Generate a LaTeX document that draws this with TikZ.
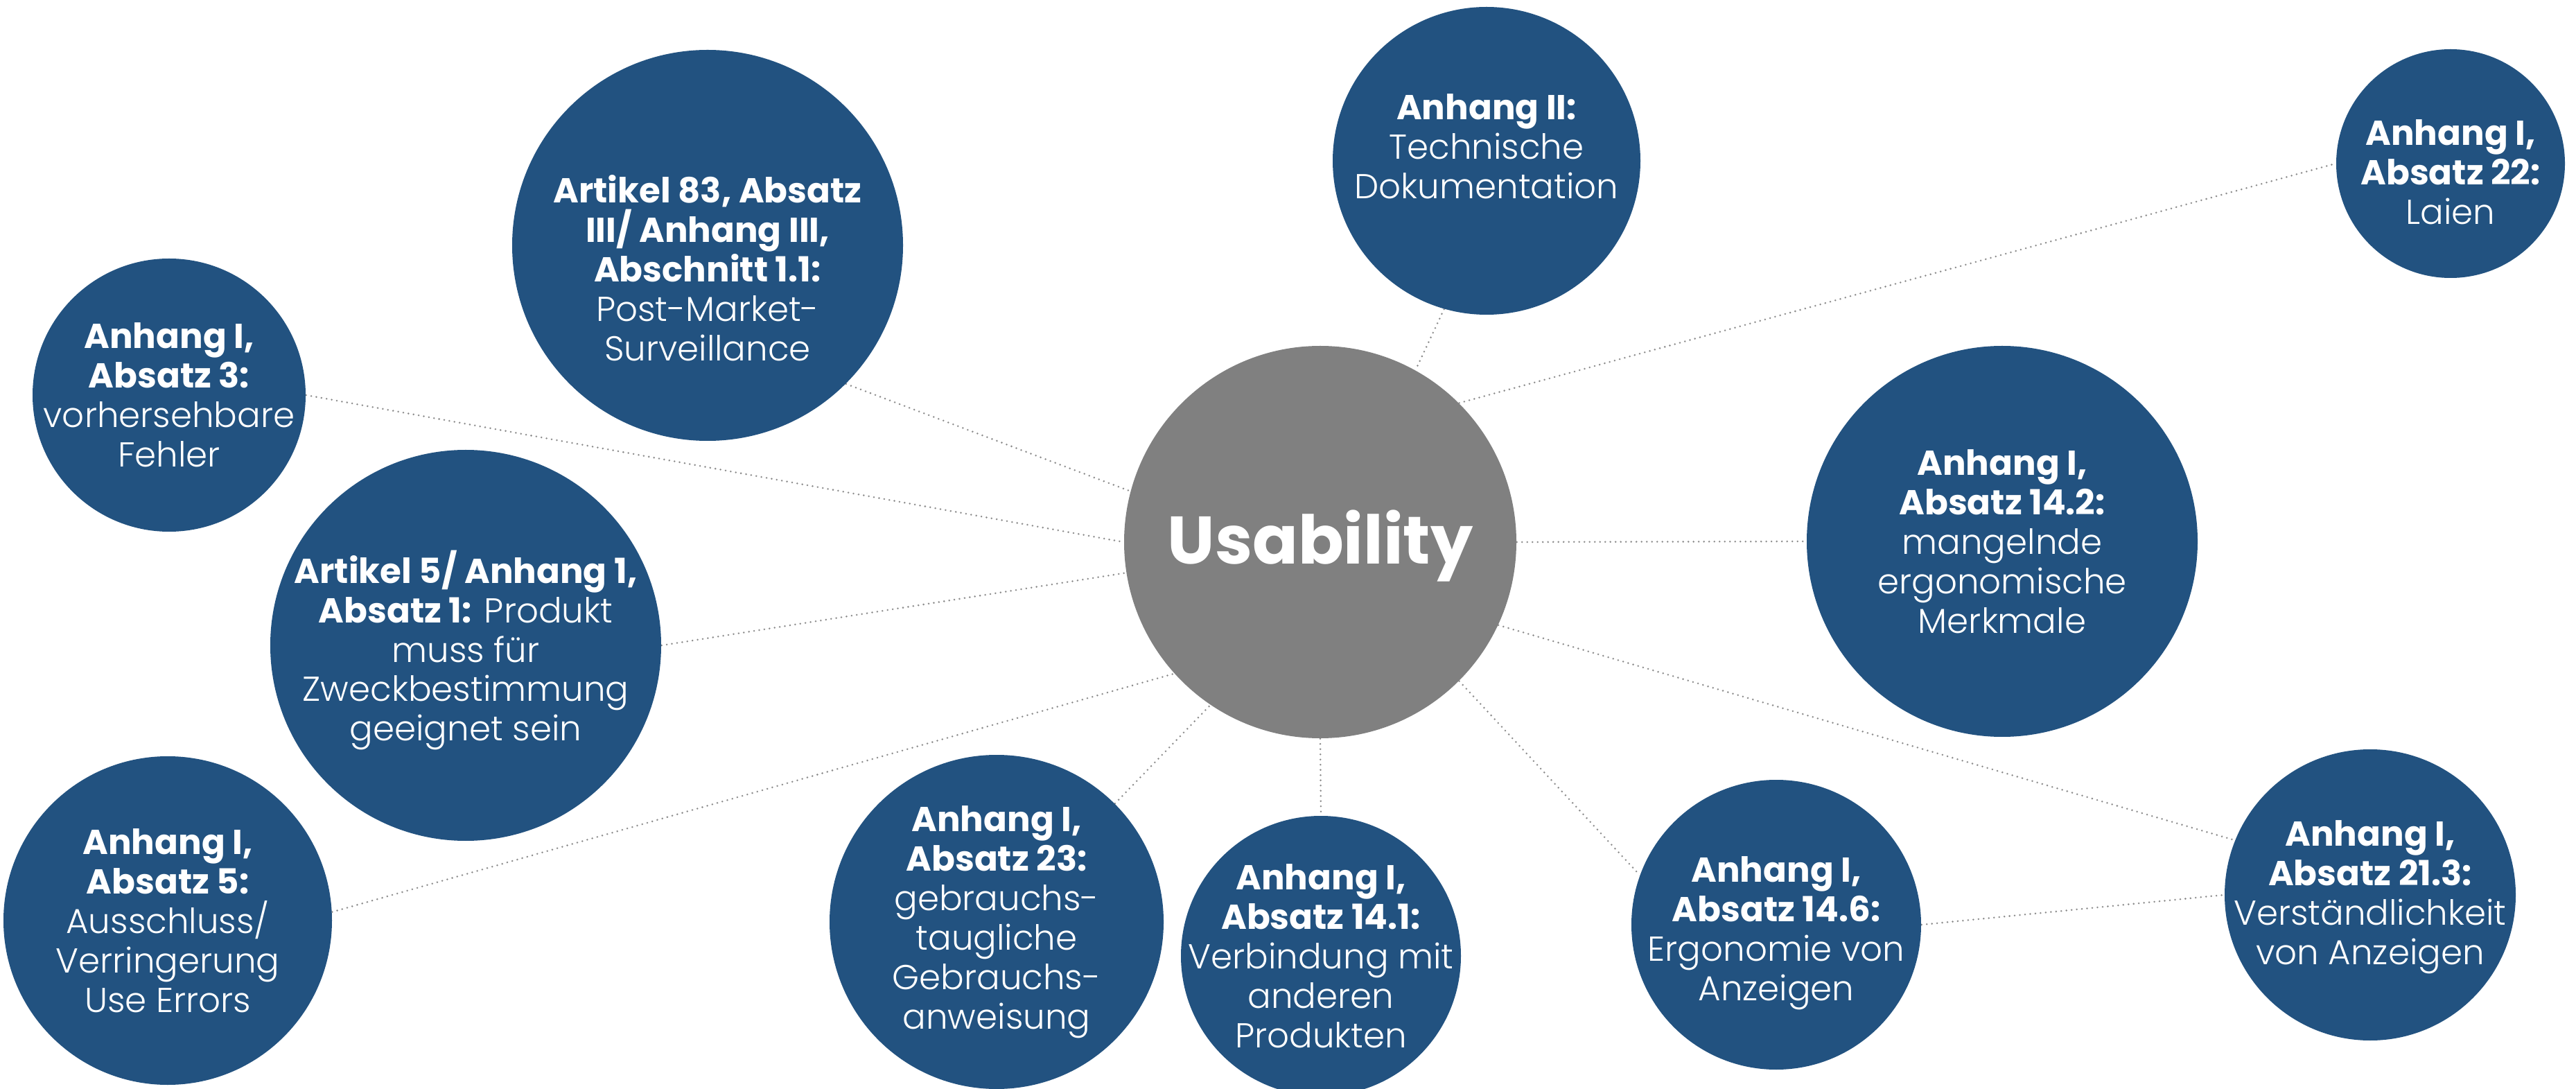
\documentclass[tikz,border=0pt]{standalone}
\usepackage{fontspec}
\IfFontExistsTF{Poppins Light}{%
  \setmainfont{Poppins}[UprightFont={* Light},BoldFont={* Bold}]%
}{%
  \setmainfont{Poppins}%
}
\usetikzlibrary{backgrounds}
\definecolor{bubble}{HTML}{225280}
\definecolor{hub}{HTML}{808080}
\definecolor{dotline}{HTML}{8C8C8C}
\tikzset{
  bubblenode/.style={circle, fill=bubble, draw=none, inner sep=0pt},
  hubnode/.style={circle, fill=hub, draw=none, inner sep=0pt},
  btext/.style={inner sep=0pt, text=white, align=center,
     font=\fontsize{14.2}{16.2}\selectfont},
  hubtext/.style={inner sep=0pt, text=white,
     font=\fontsize{27.6}{32}\selectfont\bfseries},
  conn/.style={draw=dotline, line width=0.028cm, line cap=round, dash pattern=on 0pt off 0.075cm}
}
\begin{document}
\begin{tikzpicture}
\useasboundingbox (0,0) rectangle (37.17,-15.71);
\clip (0,0) rectangle (37.17,-15.71);

% circles
\node[hubnode, minimum size=5.66cm] (usab) at (19.05,-7.82) {};
\node[bubblenode, minimum size=4.44cm] (anh2) at (21.45,-2.32) {};
\node[bubblenode, minimum size=3.30cm] (laien) at (35.36,-2.36) {};
\node[bubblenode, minimum size=5.64cm] (a83) at (10.21,-3.54) {};
\node[bubblenode, minimum size=3.94cm] (abs3) at (2.44,-5.70) {};
\node[bubblenode, minimum size=5.64cm] (a5) at (6.72,-9.31) {};
\node[bubblenode, minimum size=4.74cm] (abs5) at (2.42,-13.28) {};
\node[bubblenode, minimum size=4.82cm] (abs23) at (14.38,-13.30) {};
\node[bubblenode, minimum size=4.04cm] (abs141) at (19.06,-13.79) {};
\node[bubblenode, minimum size=4.18cm] (abs146) at (25.63,-13.34) {};
\node[bubblenode, minimum size=4.20cm] (abs213) at (34.20,-12.91) {};
\node[bubblenode, minimum size=5.64cm] (abs142) at (28.89,-7.81) {};

% texts
\node[hubtext] (usabt) at ([yshift=-0.06cm]usab.center) {Usability};
\node[btext] (anh2t) at ([yshift=0.21cm]anh2.center)
  {\textbf{Anhang II:}\\Technische\\Dokumentation};
\node[btext] (laient) at ([yshift=-0.12cm]laien.center)
  {\textbf{Anhang I,}\\\textbf{Absatz 22:}\\Laien};
\node[btext] (a83t) at ([yshift=-0.33cm]a83.center)
  {\textbf{Artikel 83, Absatz}\\\textbf{III/ Anhang III,}\\\textbf{Abschnitt 1.1:}\\Post-Market-\\Surveillance};
\node[btext] (abs3t) at (abs3.center)
  {\textbf{Anhang I,}\\\textbf{Absatz 3:}\\vorhersehbare\\Fehler};
\node[btext] (a5t) at ([yshift=-0.07cm]a5.center)
  {\textbf{Artikel 5/ Anhang 1,}\\\textbf{Absatz 1:} Produkt\\muss für\\Zweckbestimmung\\geeignet sein};
\node[btext] (abs5t) at (abs5.center)
  {\textbf{Anhang I,}\\\textbf{Absatz 5:}\\Ausschluss/\\Verringerung\\Use Errors};
\node[btext] (abs23t) at (abs23.center)
  {\textbf{Anhang I,}\\\textbf{Absatz 23:}\\gebrauchs-\\taugliche\\Gebrauchs-\\anweisung};
\node[btext] (abs141t) at (abs141.center)
  {\textbf{Anhang I,}\\\textbf{Absatz 14.1:}\\Verbindung mit\\anderen\\Produkten};
\node[btext] (abs146t) at ([yshift=-0.12cm]abs146.center)
  {\textbf{Anhang I,}\\\textbf{Absatz 14.6:}\\Ergonomie von\\Anzeigen};
\node[btext] (abs213t) at ([yshift=-0.03cm]abs213.center)
  {\textbf{Anhang I,}\\\textbf{Absatz 21.3:}\\Verständlichkeit\\von Anzeigen};
\node[btext] (abs142t) at (abs142.center)
  {\textbf{Anhang I,}\\\textbf{Absatz 14.2:}\\mangelnde\\ergonomische\\Merkmale};

\begin{scope}[on background layer]
\fill[white] (0,0) rectangle (37.17,-15.71);
\draw[conn] (abs3.east) -- (usab.west);
\draw[conn] (a83.-45) -- (usab.165);
\draw[conn] (anh2.-106) -- (usab.61);
\draw[conn] (usab.45) -- (laien.west);
\draw[conn] (usab.east) -- (abs142.west);
\draw[conn] (a5.east) -- (usab.189);
\draw[conn] (abs5.3) -- (usab.222);
\draw[conn] (abs23.45) -- (usab.236);
\draw[conn] (usab.south) -- (abs141.north);
\draw[conn] (usab.-45) -- (abs146.160);
\draw[conn] (usab.-25) -- (abs213.158);
\draw[conn] (abs146.east) -- (abs213.west);
\end{scope}
\end{tikzpicture}
\end{document}
